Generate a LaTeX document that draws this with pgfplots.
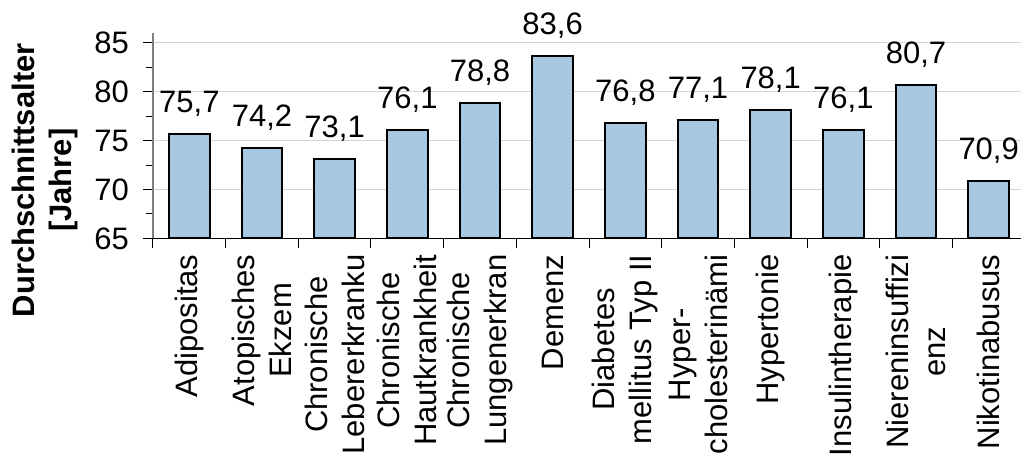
\documentclass[border=0pt]{standalone}
\usepackage{pgfplots}
\pgfplotsset{compat=1.18}
\usepackage{fontspec}
\setmainfont{Liberation Sans}
\definecolor{barfill}{RGB}{168,200,225}
\definecolor{gridc}{RGB}{212,212,212}
\definecolor{yax}{RGB}{128,128,128}
\definecolor{xtk}{RGB}{90,90,90}
\newcommand{\bigf}{\fontsize{31}{37}\selectfont}
\begin{document}
\begin{tikzpicture}
\begin{axis}[
  scale only axis,
  width=872pt, height=205.4pt,
  xmin=-0.5, xmax=11.5,
  ymin=65, ymax=86,
  ytick={65,70,75,80,85},
  minor ytick={67.5,72.5,77.5,82.5},
  ymajorgrids,
  grid style={gridc, line width=1pt},
  axis x line*=bottom, axis y line*=left,
  x axis line style={black, line width=1.5pt, -},
  y axis line style={yax, line width=2pt, -},
  tick align=outside,
  major tick length=10pt, minor tick length=7pt,
  tick style={black, line width=1pt},
  xtick={-0.5,0.5,...,11.5},
  xticklabel=\empty,
  extra x ticks={0,1,2,3,4,5,6,7,8,9,10,11},
  extra x tick style={tick style={draw=none}, grid=none},
  extra x tick labels={{Adipositas},{Atopisches\\Ekzem},{Chronische\\Lebererkranku},{Chronische\\Hautkrankheit},{Chronische\\Lungenerkran},{Demenz},{Diabetes\\mellitus Typ II},{Hyper-\\cholesterinämi},{Hypertonie},{Insulintherapie},{Niereninsuffizi\\enz},{Nikotinabusus}},
  xticklabel style={rotate=90, anchor=east, align=center, font=\bigf, inner sep=0pt, xshift=-6pt},
  yticklabel style={font=\bigf, inner sep=0pt, xshift=-14pt, anchor=east},
  /pgf/number format/assume math mode=true,
  ylabel={Durchschnittsalter\\{[Jahre]}},
  ylabel style={font=\bfseries\bigf, align=center, at={(rel axis cs:0,0.283)}, anchor=center, yshift=108pt},
  ybar, bar width=0.56,
  point meta=y,
  nodes near coords={\pgfmathprintnumber[fixed,fixed zerofill,precision=1,use comma,assume math mode=true]{\pgfplotspointmeta}},
  every node near coord/.append style={font=\bigf, anchor=base, inner sep=0pt, yshift=21.5pt, black},
]
\addplot[fill=barfill, draw=black, line width=2pt] coordinates {
(0,75.7) (1,74.2) (2,73.1) (3,76.1) (4,78.8) (5,83.6) (6,76.8) (7,77.1) (8,78.1) (9,76.1) (10,80.7) (11,70.9)
};
\coordinate (sw) at (rel axis cs:0,0);
\coordinate (ne) at (rel axis cs:1,1);
\end{axis}
\pgfresetboundingbox
\path[use as bounding box] ([xshift=-153pt,yshift=-224pt]sw) rectangle ([xshift=-4pt,yshift=33pt]ne);
\end{tikzpicture}
\end{document}
